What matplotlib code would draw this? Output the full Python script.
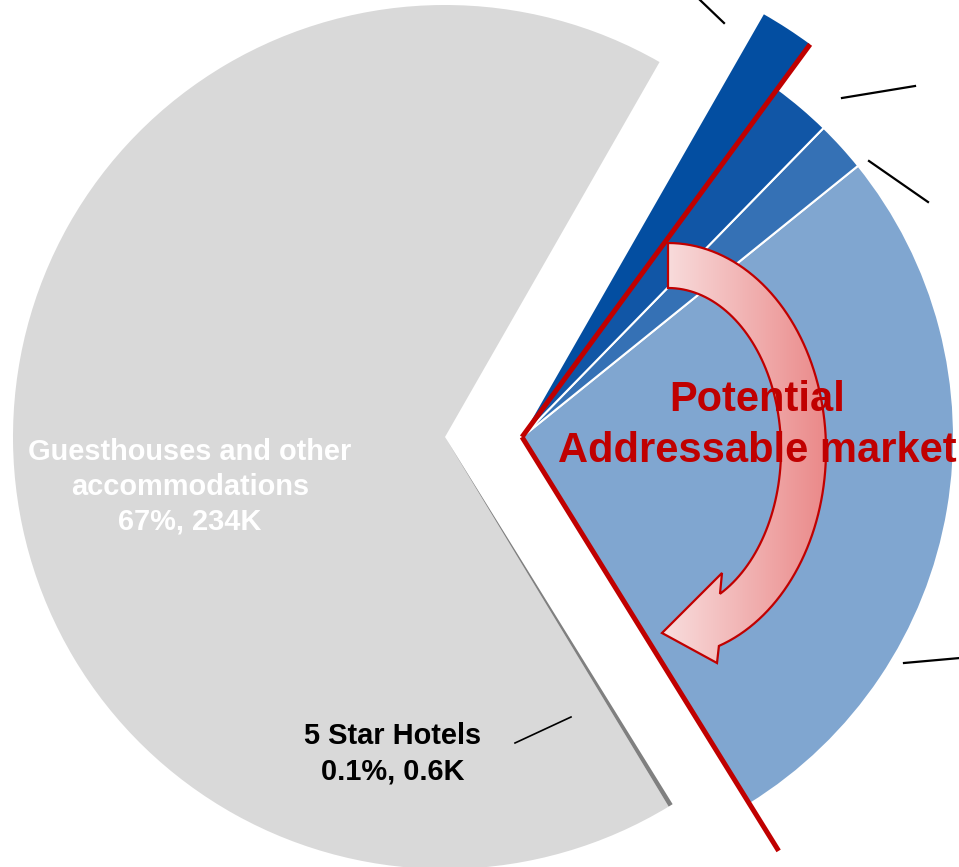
import numpy as np
import matplotlib
matplotlib.use('Agg')
import matplotlib.pyplot as plt
from matplotlib.patches import PathPatch
from matplotlib.path import Path
from matplotlib.colors import LinearSegmentedColormap

plt.rcParams['font.family'] = ['Liberation Sans', 'DejaVu Sans']

# Data (K units); blue segments' labels sit outside the visible area
categories = ['Segment 1', 'Segment 2', 'Segment 3', 'Segment 4',
              'Guesthouses and other accommodations', '5 Star Hotels']
values_k = [94.3, 6.6, 7.8, 6.3, 234.0, 0.6]
colors = ['#80a6d0', '#3571b5', '#1156a6', '#034ea1', '#d9d9d9', '#808080']
guest_label = 'Guesthouses and other\naccommodations\n67%, 234K'
star_label = '5 Star Hotels\n0.1%, 0.6K'

W, H = 959, 867
R = 432


def P(x, y):
    # picture pixel coords -> axes coords (y up)
    return x, H - y


fig = plt.figure(figsize=(W / 100, H / 100), dpi=100)
ax = fig.add_axes([0, 0, 1, 1])

# gray part (not exploded)
gray_c = P(445, 437)
w1, _ = ax.pie(values_k, colors=colors, startangle=-58.2, counterclock=True,
               radius=R, center=gray_c, frame=True,
               wedgeprops=dict(linewidth=0))
for i in range(4):
    w1[i].set_visible(False)

# blue part (pulled out to the right)
blue_c = P(522, 437)
w2, _ = ax.pie(values_k, colors=colors, startangle=-58.2, counterclock=True,
               radius=R, center=blue_c, frame=True,
               wedgeprops=dict(linewidth=1.5, edgecolor='white'))
for i in (4, 5):
    w2[i].set_visible(False)
w2[3].set_radius(487)
w2[3].set_linewidth(0)

# red boundary lines of the addressable market
for ang in (w2[0].theta1, w2[2].theta2):
    a = np.radians(ang)
    ax.plot([blue_c[0], blue_c[0] + 487 * np.cos(a)],
            [blue_c[1], blue_c[1] + 487 * np.sin(a)],
            color='#c00000', lw=3.6, solid_capstyle='butt', zorder=5)

# leader lines
leaders = [((700, 0), (724, 23)), ((842, 98), (915, 86)),
           ((869, 161), (928, 202)), ((904, 663), (960, 658))]
for p0, p1 in leaders:
    x0, y0 = P(*p0)
    x1, y1 = P(*p1)
    ax.plot([x0, x1], [y0, y1], color='black', lw=1.6, zorder=6)
x0, y0 = P(515, 743)
x1, y1 = P(571, 717)
ax.plot([x0, x1], [y0, y1], color='black', lw=1.2, zorder=6)

# curved arrow
acx, acy = P(668, 450)
t_out = np.radians(np.linspace(90, -71.2, 80))
t_in = np.radians(np.linspace(-62.6, 90, 80))
outer = np.column_stack([acx + 158 * np.cos(t_out), acy + 207 * np.sin(t_out)])
inner = np.column_stack([acx + 113 * np.cos(t_in), acy + 162 * np.sin(t_in)])
head = np.array([P(717, 663), P(662, 633), P(722, 573)])
verts = np.vstack([outer, head, inner, outer[:1]])
codes = [Path.MOVETO] + [Path.LINETO] * (len(verts) - 2) + [Path.CLOSEPOLY]
arrow_path = Path(verts, codes)

grad_cmap = LinearSegmentedColormap.from_list('pink', ['#f9e2e2', '#ea8787'])
grad = np.linspace(0, 1, 256).reshape(1, -1)
im = ax.imshow(grad, cmap=grad_cmap, aspect='auto',
               extent=[655, 830, H - 670, H - 238], zorder=7)
clip = PathPatch(arrow_path, facecolor='none', edgecolor='none')
ax.add_patch(clip)
im.set_clip_path(clip)
ax.add_patch(PathPatch(arrow_path, facecolor='none', edgecolor='#c00000',
                       lw=1.6, zorder=8))

# texts
ax.text(*P(757, 411), 'Potential', color='#c00000', fontsize=30,
        fontweight='bold', ha='center', va='baseline', zorder=9)
ax.text(*P(757, 462), 'Addressable market', color='#c00000', fontsize=30,
        fontweight='bold', ha='center', va='baseline', zorder=9)

gx, gy = P(190, 460)
for k, line in enumerate(guest_label.split('\n')):
    ax.text(gx, gy - 35 * k, line, color='white', fontsize=20.9,
            fontweight='bold', ha='center', va='baseline', zorder=9)
sx, sy = P(393, 744)
for k, line in enumerate(star_label.split('\n')):
    ax.text(sx, sy - 35 * k, line, color='black', fontsize=20.9,
            fontweight='bold', ha='center', va='baseline', zorder=9)

ax.set_xlim(0, W)
ax.set_ylim(0, H)
ax.set_aspect('auto')
ax.axis('off')

fig.savefig('out.png', dpi=100, facecolor='white')
